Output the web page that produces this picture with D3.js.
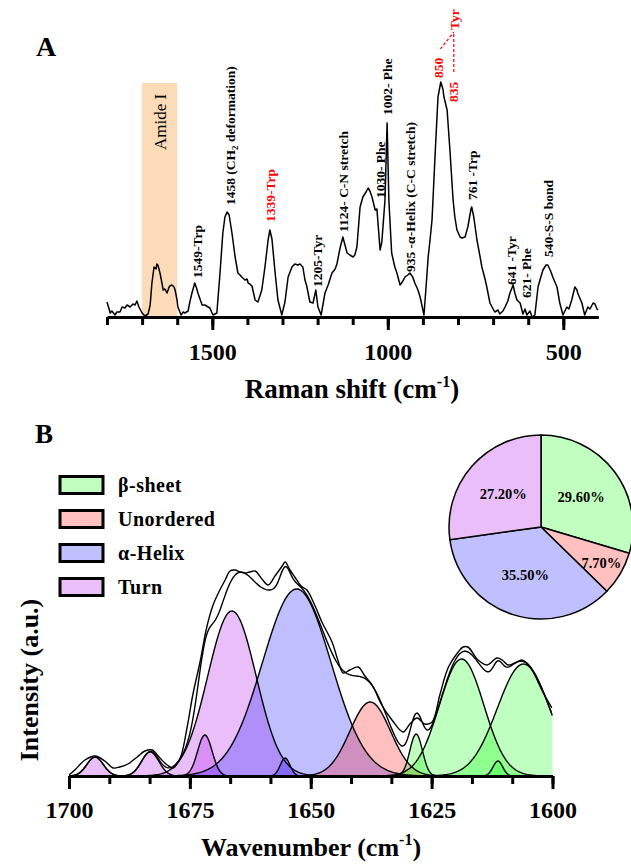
<!DOCTYPE html>
<html>
<head>
<meta charset="utf-8">
<title>Raman spectrum and amide I deconvolution</title>
<script src="https://d3js.org/d3.v7.min.js"></script>
<style>
  body { margin: 0; background: #fff; }
  text { font-family: "Liberation Serif", "Times New Roman", serif; }
</style>
</head>
<body>
<div id="chart"></div>
<script>
// ---------- panel A : Raman spectrum ----------
var ramanShift = [1800,1794,1791,1786,1777,1772,1763,1757,1749,1743,1734,1726,1720,1715,1709,1700,1692,1683,1677,1672,
  1666,1660,1658,1655,1649,1643,1640,1635,1629,1623,1621,1615,1609,1606,1601,1598,1589,1583,1578,1569,
  1564,1558,1550,1544,1541,1529,1521,1512,1507,1498,1487,1478,1470,1464,1458,1452,1444,1435,1427,1421,
  1416,1407,1401,1398,1393,1387,1378,1370,1359,1350,1341,1336,1330,1321,1313,1302,1293,1284,1273,1265,
  1256,1250,1242,1236,1231,1222,1213,1205,1199,1190,1179,1170,1159,1150,1145,1136,1128,1122,1116,1108,
  1099,1094,1088,1079,1071,1062,1056,1051,1045,1036,1031,1022,1017,1008,1002,997,989,980,974,965,
  957,951,943,937,929,923,914,908,903,897,891,885,880,874,865,857,849,843,840,831,
  823,814,809,803,794,789,780,772,763,761,755,746,737,732,723,718,709,703,695,686,
  681,672,666,658,652,643,638,632,623,615,609,604,595,589,581,572,564,558,549,544,
  535,530,518,510,501,490,484,476,467,461,459,447,439,430,424,415,410,404,401];
var ramanIntensity = [15,8,4,6,2,5,5,10,9,12,10,13,12,16,10,4,1,3,12,34,
  50,48,53,52,44,33,27,28,24,30,31,32,30,27,18,10,2,5,4,6,
  15,24,34,28,24,12,12,10,9,2,4,44,84,100,105,102,84,60,44,42,
  40,37,38,34,33,31,17,15,27,50,77,87,78,44,17,2,15,40,50,53,
  52,53,50,37,31,15,14,27,10,2,24,32,44,48,53,69,80,72,64,62,
  60,62,70,110,120,125,129,126,120,107,108,67,75,117,194,117,64,50,44,32,
  36,40,42,44,40,34,27,20,12,2,30,60,76,97,164,220,235,228,220,207,
  167,117,100,87,80,79,80,90,108,110,100,77,60,50,38,30,14,10,5,7,
  3,6,10,16,24,32,24,17,14,3,8,2,6,0,2,30,40,47,52,52,
  45,40,30,14,2,10,8,17,30,27,24,14,2,10,8,14,13,8,7];

var amideRange = [1700, 1600];
var shiftMajor = [1500, 1000, 500];
var shiftTicks = d3.range(1800, 450, -100);

var peakText = ["1549-Trp", "1458 (CH|2| deformation)", "1339-Trp", "1205-Tyr", "1124- C-N stretch",
  "1030- Phe", "1002- Phe", "935 -\u03b1-Helix (C-C stretch)", "850", "835", "Tyr",
  "761 -Trp", "641 -Tyr", "621- Phe", "540-S-S bond"];
var peakTextShift = [1544, 1450, 1336, 1202, 1128, 1022, 1002, 937, 857, 814, 811, 760, 649, 606, 544];
var peakTextLevel = [39, 112, 95, 30, 85, 119, 202, 45, 239, 215, 287, 117, 32, 19, 60];
var peakTextRed = [false, false, true, false, false, false, false, false, true, true, true, false, false, false, false];

// ---------- panel B : amide I deconvolution ----------
var wavenumber = [1700,1698.8,1696.7,1694.6,1692.6,1690.9,1689.5,1687.8,1685.9,1684.3,1682.8,1681.2,1679.7,1678.5,
  1677.0,1675.6,1674.4,1672.9,1671.5,1670.2,1668.8,1667.7,1666.7,1665.7,1664.6,1663.6,1662.6,1661.5,1660.1,
  1658.8,1657.4,1655.9,1655.3,1654.3,1653.3,1652.0,1650.8,1649.1,1647.7,1645.6,1644.4,1643.3,1641.9,1640.2,
  1638.8,1637.3,1635.3,1633.2,1630.9,1629.5,1628.0,1626.4,1624.9,1623.3,1621.6,1619.5,1618.5,1617.5,1615.4,
  1613.5,1611.5,1610.4,1609.2,1607.8,1606.3,1605.3,1604.0,1602.0,1600.1];
var measured = [1,6,16,20,15,8,9,12,19,25,26,18,11,8,
  18,48,81,114,149,171,186,196,205,206,204,203,204,205,197,
  191,200,210,214,206,199,190,186,170,154,134,116,103,106,109,
  100,91,71,56,44,52,58,52,54,81,108,124,129,129,116,
  111,118,116,111,113,116,113,104,84,68];

var bandCenter = [1694.6, 1683.2, 1671.9, 1666.3, 1652.9, 1655.3, 1637.7, 1628.2, 1618.8, 1611.3, 1606.0];
var bandHeight = [19, 24, 41, 165, 187, 18, 74, 42, 117, 15, 112];
var bandSigma  = [1.7, 1.8, 1.5, 5.0, 7.1, 1.0, 4.2, 1.3, 4.6, 1.0, 5.4];
var bandType   = ["Turn", "Turn", "Turn", "Turn", "\u03b1-Helix", "\u03b1-Helix", "Unordered",
  "\u03b2-sheet", "\u03b2-sheet", "\u03b2-sheet", "\u03b2-sheet"];

var structures = ["\u03b2-sheet", "Unordered", "\u03b1-Helix", "Turn"];
var structureShare = [29.6, 7.7, 35.5, 27.2];
var wnMajor = [1700, 1675, 1650, 1625, 1600];

var solid = {"\u03b2-sheet": "#c0ffc0", "Unordered": "#ffc0c0", "\u03b1-Helix": "#c0c0ff", "Turn": "#eabff9"};
var tint  = {"\u03b2-sheet": "rgba(0,255,0,0.25)", "Unordered": "rgba(255,0,0,0.25)",
             "\u03b1-Helix": "rgba(0,0,255,0.25)", "Turn": "rgba(170,0,230,0.25)"};

var svg = d3.select("#chart").append("svg")
  .attr("width", 631).attr("height", 865);

// ===== panel A =====
var xA = d3.scaleLinear().domain([1800, 400]).range([107, 598.4]);
var yA = d3.scaleLinear().domain([0, 240]).range([317, 77]);

svg.append("text").attr("x", 36).attr("y", 56)
  .attr("font-size", 28).attr("font-weight", "bold").text("A");

svg.append("rect")
  .attr("x", xA(amideRange[0])).attr("y", 83)
  .attr("width", xA(amideRange[1]) - xA(amideRange[0])).attr("height", yA(0) - 83)
  .attr("fill", "#fcdcb8");
svg.append("text")
  .attr("transform", "translate(" + ((xA(amideRange[0]) + xA(amideRange[1])) / 2) + ",122) rotate(-90)")
  .attr("text-anchor", "middle").attr("dy", "0.35em")
  .attr("font-size", 17).text("Amide I");

var ramanData = ramanShift.map(function(s, i) { return [s, ramanIntensity[i]]; });
svg.append("path").datum(ramanData)
  .attr("fill", "none").attr("stroke", "#000").attr("stroke-width", 1.5)
  .attr("stroke-linejoin", "round")
  .attr("d", d3.line().x(function(d) { return xA(d[0]); }).y(function(d) { return yA(d[1]); }));

var axA = svg.append("g").attr("transform", "translate(0," + yA(0) + ")");
axA.call(d3.axisBottom(xA).tickValues(shiftTicks).tickSize(8).tickSizeOuter(0).tickFormat(""));
axA.append("g").call(d3.axisBottom(xA).tickValues(shiftMajor).tickSize(13).tickSizeOuter(0).tickFormat(d3.format("d")));
axA.selectAll(".domain").attr("stroke-width", 3);
axA.selectAll(".tick line").attr("stroke-width", 3);
axA.selectAll(".tick text").attr("y", 43).attr("dy", 0)
  .attr("font-family", "Liberation Serif").attr("font-size", 24).attr("font-weight", "bold");
axA.selectAll("g > g > .domain").remove();

var titleA = svg.append("text").attr("x", 352).attr("y", 398).attr("text-anchor", "middle")
  .attr("font-size", 27).attr("font-weight", "bold");
titleA.append("tspan").text("Raman shift (cm");
titleA.append("tspan").attr("dy", -11).attr("font-size", 16).text("-1");
titleA.append("tspan").attr("dy", 11).text(")");

peakText.forEach(function(t, i) {
  var lab = svg.append("text")
    .attr("transform", "translate(" + xA(peakTextShift[i]) + "," + yA(peakTextLevel[i]) + ") rotate(-90)")
    .attr("dy", "0.35em").attr("font-size", 13.5).attr("font-weight", "bold")
    .attr("fill", peakTextRed[i] ? "#ff0000" : "#000");
  t.split("|").forEach(function(part, j) {
    var sp = lab.append("tspan").text(part);
    if (j === 1) sp.attr("font-size", 9).attr("dy", 3);
    if (j === 2) sp.attr("dy", -3);
  });
});
// dashed pointers from 850 / 835 to Tyr
svg.append("line")
  .attr("x1", xA(850)).attr("y1", yA(268)).attr("x2", xA(812)).attr("y2", yA(285))
  .attr("stroke", "#ff0000").attr("stroke-width", 1.2).attr("stroke-dasharray", "3,2");
svg.append("line")
  .attr("x1", xA(812)).attr("y1", yA(245)).attr("x2", xA(812)).attr("y2", yA(285))
  .attr("stroke", "#ff0000").attr("stroke-width", 1.2).attr("stroke-dasharray", "3,2");

// ===== panel B =====
var xB = d3.scaleLinear().domain([1700, 1600]).range([69, 552.5]);
var yB = d3.scaleLinear().domain([0, 220]).range([776, 556]);

svg.append("text").attr("x", 35).attr("y", 443)
  .attr("font-size", 27).attr("font-weight", "bold").text("B");

svg.append("defs").append("clipPath").attr("id", "clipB")
  .append("rect").attr("x", xB(1700)).attr("y", 400).attr("width", xB(1600) - xB(1700)).attr("height", yB(0) - 400);

var grid = d3.range(1700, 1599.9, -0.25);
function band(k) {
  return grid.map(function(w) {
    var z = (w - bandCenter[k]) / bandSigma[k];
    return [w, bandHeight[k] * Math.exp(-0.5 * z * z)];
  });
}
var gB = svg.append("g").attr("clip-path", "url(#clipB)");
var areaB = d3.area().x(function(d) { return xB(d[0]); }).y0(yB(0)).y1(function(d) { return yB(d[1]); });
var lineB = d3.line().x(function(d) { return xB(d[0]); }).y(function(d) { return yB(d[1]); });

var bands = bandCenter.map(function(c, k) { return band(k); });
bands.forEach(function(b, k) {
  gB.append("path").datum(b).attr("fill", tint[bandType[k]]).attr("d", areaB);
});
bands.forEach(function(b) {
  gB.append("path").datum(b).attr("fill", "none").attr("stroke", "#000").attr("stroke-width", 1.4).attr("d", lineB);
});
var fit = grid.map(function(w, i) {
  return [w, d3.sum(bands, function(b) { return b[i][1]; })];
});
gB.append("path").datum(fit).attr("fill", "none").attr("stroke", "#000").attr("stroke-width", 1.4).attr("d", lineB);
var meas = wavenumber.map(function(w, i) { return [w, measured[i]]; });
var lineMeas = d3.line().curve(d3.curveCatmullRom)
  .x(function(d) { return xB(d[0]); }).y(function(d) { return yB(d[1]); });
gB.append("path").datum(meas).attr("fill", "none").attr("stroke", "#000").attr("stroke-width", 1.4)
  .attr("d", lineMeas);

var minorB = d3.range(1700, 1599, -25 / 3);
var axB = svg.append("g").attr("transform", "translate(0," + yB(0) + ")");
axB.call(d3.axisBottom(xB).tickValues(minorB).tickSize(8).tickSizeOuter(0).tickFormat(""));
axB.append("g").call(d3.axisBottom(xB).tickValues(wnMajor).tickSize(13).tickSizeOuter(0).tickFormat(d3.format("d")));
axB.selectAll(".domain").attr("stroke-width", 3);
axB.selectAll(".tick line").attr("stroke-width", 3);
axB.selectAll(".tick text").attr("y", 42).attr("dy", 0)
  .attr("font-family", "Liberation Serif").attr("font-size", 24).attr("font-weight", "bold");
axB.selectAll("g > g > .domain").remove();

var titleB = svg.append("text").attr("x", 311).attr("y", 856).attr("text-anchor", "middle")
  .attr("font-size", 26).attr("font-weight", "bold");
titleB.append("tspan").text("Wavenumber (cm");
titleB.append("tspan").attr("dy", -11).attr("font-size", 16).text("-1");
titleB.append("tspan").attr("dy", 11).text(")");

svg.append("text").attr("transform", "translate(29,680) rotate(-90)")
  .attr("text-anchor", "middle").attr("dy", "0.35em")
  .attr("font-size", 26).attr("font-weight", "bold").text("Intensity (a.u.)");

// legend
var leg = svg.append("g").selectAll("g").data(structures).join("g")
  .attr("transform", function(d, i) { return "translate(60," + (485 + i * 34) + ")"; });
leg.append("rect").attr("x", 0).attr("y", -8.5).attr("width", 43).attr("height", 17)
  .attr("fill", function(d) { return solid[d]; }).attr("stroke", "#000").attr("stroke-width", 3);
leg.append("text").attr("x", 58).attr("dy", "0.35em")
  .attr("font-size", 20).attr("font-weight", "bold").attr("letter-spacing", 0.5)
  .text(function(d) { return d; });

// pie
var pie = d3.pie().sort(null).value(function(d) { return d; });
var arcs = pie(structureShare);
var arc = d3.arc().innerRadius(0).outerRadius(92);
var pg = svg.append("g").attr("transform", "translate(541,527)");
pg.selectAll("path").data(arcs).join("path")
  .attr("d", arc)
  .attr("fill", function(d, i) { return solid[structures[i]]; })
  .attr("stroke", "#000").attr("stroke-width", 1.5);
pg.selectAll("text").data(arcs).join("text")
  .attr("transform", function(d) {
    var r = d.data < 10 ? 70 : 50;
    var a = (d.startAngle + d.endAngle) / 2;
    return "translate(" + (r * Math.sin(a)) + "," + (-r * Math.cos(a)) + ")";
  })
  .attr("text-anchor", "middle").attr("dy", "0.35em")
  .attr("font-size", 14.5).attr("font-weight", "bold")
  .text(function(d) { return d.data.toFixed(2) + "%"; });
</script>
</body>
</html>
